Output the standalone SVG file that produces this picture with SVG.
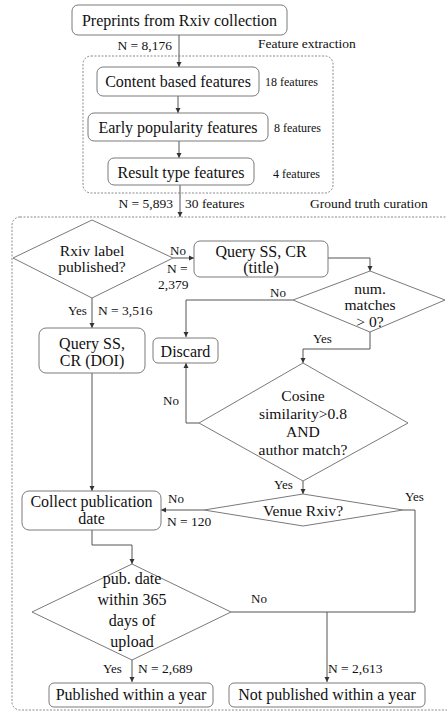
<svg xmlns="http://www.w3.org/2000/svg" width="447" height="713" viewBox="0 0 447 713">
<style>
text{font-family:'Liberation Serif','Times New Roman',Times,'DejaVu Serif',serif;fill:#111}
.b{font-size:16px;text-anchor:middle}
.d{font-size:15.6px;text-anchor:middle}
.s{font-size:13.5px}
.f{font-size:12px}
.l{font-size:13px}
.box{fill:#fff;stroke:#7a7a7a;stroke-width:1}
.dia{fill:#fff;stroke:#7a7a7a;stroke-width:1}
.grp{fill:none;stroke:#8a8a8a;stroke-width:1;stroke-dasharray:2 1.5}
.c{fill:none;stroke:#555;stroke-width:1}
.a{marker-end:url(#ah)}
</style>
<defs>
<marker id="ah" markerUnits="userSpaceOnUse" markerWidth="6" markerHeight="6" refX="5" refY="3" orient="auto"><path d="M0,0.5 L5,3 L0,5.5 z" fill="#333"/></marker>
</defs>
<g id="groups">
<rect class="grp" x="83" y="56" width="250" height="137" rx="8"/>
<rect class="grp" x="12" y="217" width="460" height="493" rx="8"/>
</g>
<g id="connectors">
<line class="c a" x1="179" y1="35" x2="179" y2="67"/>
<line class="c a" x1="178" y1="96" x2="178" y2="113"/>
<line class="c a" x1="179" y1="141" x2="179" y2="158"/>
<line class="c a" x1="180" y1="185" x2="180" y2="217"/>
<line class="c a" x1="173" y1="258" x2="194" y2="258"/>
<polyline class="c a" points="328,258 370,258 370,271"/>
<polyline class="c a" points="293,300 186,300 186,337"/>
<polyline class="c a" points="370,332 370,349 303,349 303,363"/>
<line class="c a" x1="92" y1="298" x2="92" y2="328"/>
<polyline class="c a" points="199,423 186,423 186,363"/>
<line class="c a" x1="303" y1="481" x2="303" y2="494"/>
<line class="c a" x1="204" y1="510" x2="161" y2="510"/>
<polyline class="c a" points="403,510 415,510 415,612 327,612 327,682"/>
<line class="c" x1="231" y1="612" x2="327" y2="612"/>
<line class="c a" x1="92" y1="373" x2="92" y2="491"/>
<polyline class="c a" points="92,530 92,545 132,545 132,564"/>
<line class="c a" x1="132" y1="660" x2="132" y2="682"/>
</g>
<g id="labels" font-family="Liberation Serif, serif">
<text class="s" x="172" y="50" text-anchor="end">N = 8,176</text>
<text class="s" x="258" y="48">Feature extraction</text>
<text class="f" x="265" y="86">18 features</text>
<text class="f" x="274" y="132">8 features</text>
<text class="f" x="273" y="178">4 features</text>
<text class="s" x="173" y="208" text-anchor="end">N = 5,893</text>
<text class="s" x="185" y="208">30 features</text>
<text class="s" x="310" y="208">Ground truth curation</text>
<text class="l" x="170" y="255">No</text>
<text class="s" x="167" y="273">N =</text>
<text class="s" x="158" y="289">2,379</text>
<text class="l" x="270" y="297">No</text>
<text class="l" x="313" y="343">Yes</text>
<text class="l" x="68" y="315">Yes</text>
<text class="s" x="98" y="315">N = 3,516</text>
<text class="l" x="163" y="405">No</text>
<text class="l" x="274" y="489">Yes</text>
<text class="l" x="168" y="503">No</text>
<text class="s" x="167" y="526">N = 120</text>
<text class="l" x="405" y="501">Yes</text>
<text class="l" x="251" y="603">No</text>
<text class="l" x="103" y="673">Yes</text>
<text class="s" x="138" y="673">N = 2,689</text>
<text class="s" x="328" y="673">N = 2,613</text>
</g>
<g id="preprints"><rect class="box" x="72" y="5" width="215" height="30" rx="6"/><text class="b" x="179.5" y="26">Preprints from Rxiv collection</text></g>
<g id="content"><rect class="box" x="97" y="67" width="162" height="29" rx="6"/><text class="b" x="178" y="87">Content based features</text></g>
<g id="early"><rect class="box" x="88" y="113" width="180" height="28" rx="6"/><text class="b" x="178" y="133">Early popularity features</text></g>
<g id="result"><rect class="box" x="108" y="158" width="146" height="27" rx="6"/><text class="b" x="181" y="178">Result type features</text></g>
<g id="rxivlabel"><polygon class="dia" points="13,258 92,220 173,258 92,298"/><text class="d" x="92" y="256">Rxiv label</text><text class="d" x="92" y="272">published?</text></g>
<g id="querytitle"><rect class="box" x="194" y="241" width="134" height="36" rx="6"/><text class="b" x="261" y="257">Query SS, CR</text><text class="b" x="261" y="273">(title)</text></g>
<g id="nummatches"><polygon class="dia" points="370,271 445,300 370,332 293,300"/><text class="d" x="370" y="294">num.</text><text class="d" x="370" y="310">matches</text><text class="d" x="370" y="327">&gt; 0?</text></g>
<g id="discard"><rect class="box" x="153" y="338" width="65" height="25" rx="5"/><text class="b" x="185.5" y="357">Discard</text></g>
<g id="querydoi"><rect class="box" x="39" y="328" width="106" height="45" rx="7"/><text class="b" x="92" y="349">Query SS,</text><text class="b" x="92" y="366">CR (DOI)</text></g>
<g id="cosine"><polygon class="dia" points="303,363 408,423 303,481 199,423"/><text class="d" x="303" y="401">Cosine</text><text class="d" x="303" y="419">similarity&gt;0.8</text><text class="d" x="303" y="437">AND</text><text class="d" x="303" y="455">author match?</text></g>
<g id="venue"><polygon class="dia" points="303,494 403,510 303,526 204,510"/><text class="d" x="303" y="516">Venue  Rxiv?</text></g>
<g id="collect"><rect class="box" x="22" y="491" width="139" height="39" rx="7"/><text class="b" x="91.5" y="507">Collect publication</text><text class="b" x="91.5" y="524">date</text></g>
<g id="pubdate"><polygon class="dia" points="132,564 231,612 132,660 32,612"/><text class="b" x="132" y="584">pub. date</text><text class="b" x="132" y="605">within 365</text><text class="b" x="132" y="626">days of</text><text class="b" x="132" y="647">upload</text></g>
<g id="published"><rect class="box" x="49" y="683" width="164" height="24" rx="5"/><text class="b" x="131" y="700">Published within a year</text></g>
<g id="notpublished"><rect class="box" x="229" y="683" width="196" height="24" rx="5"/><text class="b" x="327" y="700">Not published within a year</text></g>
</svg>
